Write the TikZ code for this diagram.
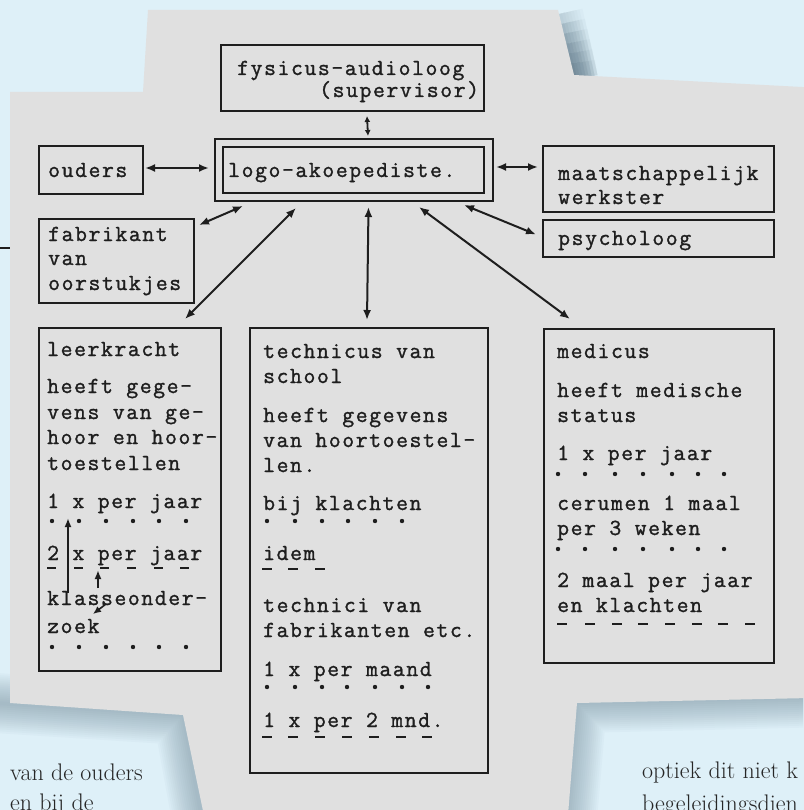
\documentclass[tikz,border=0pt]{standalone}
\usepackage{fontspec}
\usetikzlibrary{arrows.meta}
\newfontfamily\twfam{Latin Modern Mono}[LetterSpace=7,FakeBold=1.3]
\newcommand\twf{\twfam\fontsize{23}{27}\selectfont}
\definecolor{pagebg}{HTML}{DEF0F8}
\definecolor{paper}{HTML}{E0E0E0}
\definecolor{ink}{HTML}{1E1E1E}
\definecolor{shadowc}{HTML}{6F8797}
\tikzset{
  box/.style={draw=ink, line width=2pt, inner sep=0pt, anchor=north west},
  tw/.style={anchor=base west, inner sep=0pt, font=\twf, text=ink},
  prose/.style={anchor=base west, inner sep=0pt, font=\fontsize{24}{28}\selectfont, text=black!85},
  conn/.style={draw=ink, line width=2pt, {Latex[length=10pt,width=8pt]}-{Latex[length=10pt,width=8pt]}},
  shortconn/.style={draw=ink, line width=1.8pt, {Latex[length=6pt,width=6pt]}-{Latex[length=6pt,width=6pt]}},
  uparrow/.style={draw=ink, line width=2.2pt, -{Latex[length=9pt,width=7pt]}},
  glow/.style={shadowc, opacity=0.04, line join=round, line cap=butt},
  dotmark/.style={ink},
  ulmark/.style={draw=ink, line width=2.2pt},
}
\begin{document}
\begin{tikzpicture}[x=1pt, y=-1pt]
\useasboundingbox (0,0) rectangle (803,810);
% page background
\fill[pagebg] (-5,-5) rectangle (810,815);
% soft shadow round the pasted sheet
\begin{scope}
  \clip (0,0) rectangle (803,810);
  \foreach \w in {4,8,...,60} {
    \draw[glow, line width=\w pt] (-20,702) -- (183,715) -- (204,830);
    \draw[glow, line width=\w pt] (830,697) -- (577,703) -- (566,830);
  }
  % the shadow beside the upper step darkens towards its foot
  \foreach \s in {14,24,...,64} {
    \foreach \w in {6,12,...,48} {
      \draw[glow, opacity=0.04, line width=\w pt] ({558+(\s-10)*16/65},\s) -- (574,80);
    }
  }
\end{scope}
% the pasted sheet
\fill[paper] (10,92) -- (143,92) -- (148,10) -- (558,10) -- (574,75) -- (810,87.4)
  -- (810,698) -- (577,703) -- (568,815) -- (203.9,815) -- (183,715) -- (10,703) -- cycle;
% stray dash in the margin
\draw[ink, line width=2pt] (0,248) -- (10,248);

% ---- boxes ----
\node[box, minimum width=263pt, minimum height=66pt] (fys) at (220,44) {};
\node[box, minimum width=261pt, minimum height=46pt] (logo) at (222,146) {};
\draw[ink, line width=1.5pt] ([shift={(-7,-7)}]logo.north west) rectangle ([shift={(8,7)}]logo.south east);
\node[box, minimum width=104pt, minimum height=48pt] (ouders) at (38,145) {};
\node[box, minimum width=155pt, minimum height=84pt] (fab) at (38,218) {};
\node[box, minimum width=231pt, minimum height=66pt] (maat) at (542,145) {};
\node[box, minimum width=231pt, minimum height=37pt] (psy) at (542,219) {};
\node[box, minimum width=182pt, minimum height=343pt] (leer) at (38,327) {};
\node[box, minimum width=238pt, minimum height=445pt] (tech) at (249,327) {};
\node[box, minimum width=230pt, minimum height=334pt] (med) at (543,328) {};

% ---- texts in the upper boxes ----
\node[tw] (fysA) at (237,75) {fysicus-audioloog};
\node[tw] (fysB) at (319,97) {(supervisor)};
\node[tw] (logoA) at (228,177) {logo-akoepediste.};
\node[tw] (oudA) at (48,177) {ouders};
\node[tw] (fabA) at (48,241) {fabrikant};
\node[tw] (fabB) at (48,265) {van};
\node[tw] (fabC) at (48,290) {oorstukjes};
\node[tw] (maatA) at (558,180) {maatschappelijk};
\node[tw] (maatB) at (558,204) {werkster};
\node[tw] (psyA) at (558,245) {psycholoog};

% ---- leerkracht ----
\node[tw] (leA) at (47,356) {leerkracht};
\node[tw] (leB) at (47,393) {heeft gege-};
\node[tw] (leC) at (47,419) {vens van ge-};
\node[tw] (leD) at (47,444) {hoor en hoor-};
\node[tw] (leE) at (47,470) {toestellen};
\node[tw] (leF) at (47,508) {1 x per jaar};
\node[tw] (leG) at (47,560) {2 x per jaar};
\node[tw] (leH) at (47,605) {klasseonder-};
\node[tw] (leI) at (47,633) {zoek};
\foreach \x in {52,79,106,133,159,186} {
  \fill[dotmark] (\x,521) circle (2.2);
  \fill[dotmark] (\x,647) circle (2.2);
}
\foreach \x in {47,74,100,127,154,180} \draw[ulmark] (\x,568) -- ++(9,0);
\draw[uparrow] (68,593) -- (68,518);
\draw[uparrow] (98,588) -- (98,570);
\draw[draw=ink, line width=1.6pt, -{Latex[length=8pt,width=7pt]}] (106,604) -- (93,614);

% ---- technicus ----
\node[tw] (teA) at (263,358) {technicus van};
\node[tw] (teB) at (263,383) {school};
\node[tw] (teC) at (263,422) {heeft gegevens};
\node[tw] (teD) at (263,447) {van hoortoestel-};
\node[tw] (teE) at (263,472) {len.};
\node[tw] (teF) at (263,510) {bij klachten};
\node[tw] (teG) at (263,560) {idem};
\node[tw] (teH) at (263,612) {technici van};
\node[tw] (teI) at (263,637) {fabrikanten etc.};
\node[tw] (teJ) at (263,676) {1 x per maand};
\node[tw] (teK) at (263,727) {1 x per 2 mnd.};
\foreach \x in {267,295,322,348,375,402} \fill[dotmark] (\x,521) circle (2.2);
\foreach \x in {267,295,322,347,375,402,428} \fill[dotmark] (\x,687) circle (2.2);
\foreach \x in {262,288,315} \draw[ulmark] (\x,569) -- ++(10,0);
\foreach \x in {262,288,315,342,369,396,422} \draw[ulmark] (\x,737) -- ++(10,0);

% ---- medicus ----
\node[tw] (meA) at (557,358) {medicus};
\node[tw] (meB) at (557,397) {heeft medische};
\node[tw] (meC) at (557,422) {status};
\node[tw] (meD) at (557,460) {1 x per jaar};
\node[tw] (meE) at (557,510) {cerumen 1 maal};
\node[tw] (meF) at (557,535) {per 3 weken};
\node[tw] (meG) at (557,587) {2 maal per jaar};
\node[tw] (meH) at (557,612) {en klachten};
\foreach \x in {558,585,615,643,672,698,724} {
  \fill[dotmark] (\x,474) circle (2.2);
  \fill[dotmark] (\x,549) circle (2.2);
}
\foreach \x in {557,585,612,638,665,692,718,745} \draw[ulmark] (\x,624) -- ++(10,0);

% ---- connectors ----
\draw[shortconn] ([shift={(14.5,4)}]fys.south) -- ([shift={(14.5,-10)}]logo.north);
\draw[conn] ([shift={(1,-2)}]ouders.east) -- ([shift={(-13,-2)}]logo.west);
\draw[conn] ([shift={(11,-3)}]logo.east) -- ([shift={(-4,-12)}]maat.west);
\draw[conn] ([shift={(4,7)}]fab.north east) -- ([shift={(21,12)}]logo.south west);
\draw[conn] ([shift={(147,-8)}]leer.north west) -- ([shift={(74,14)}]logo.south west);
\draw[conn] ([shift={(15,13)}]logo.south) -- ([shift={(118,-7)}]tech.north west);
\draw[conn] ([shift={(-21,11)}]logo.south east) -- ([shift={(-6,-4)}]psy.west);
\draw[conn] ([shift={(-66,13)}]logo.south east) -- ([shift={(27,-9)}]med.north west);

% ---- running text of the page ----
\node[prose] (pA) at (10,780) {van de ouders};
\node[prose] (pB) at (10,810) {en bij de};
\node[prose] (pC) at (642,778) {optiek dit niet k};
\node[prose] (pD) at (642,811) {begeleidingsdien};
\end{tikzpicture}
\end{document}
